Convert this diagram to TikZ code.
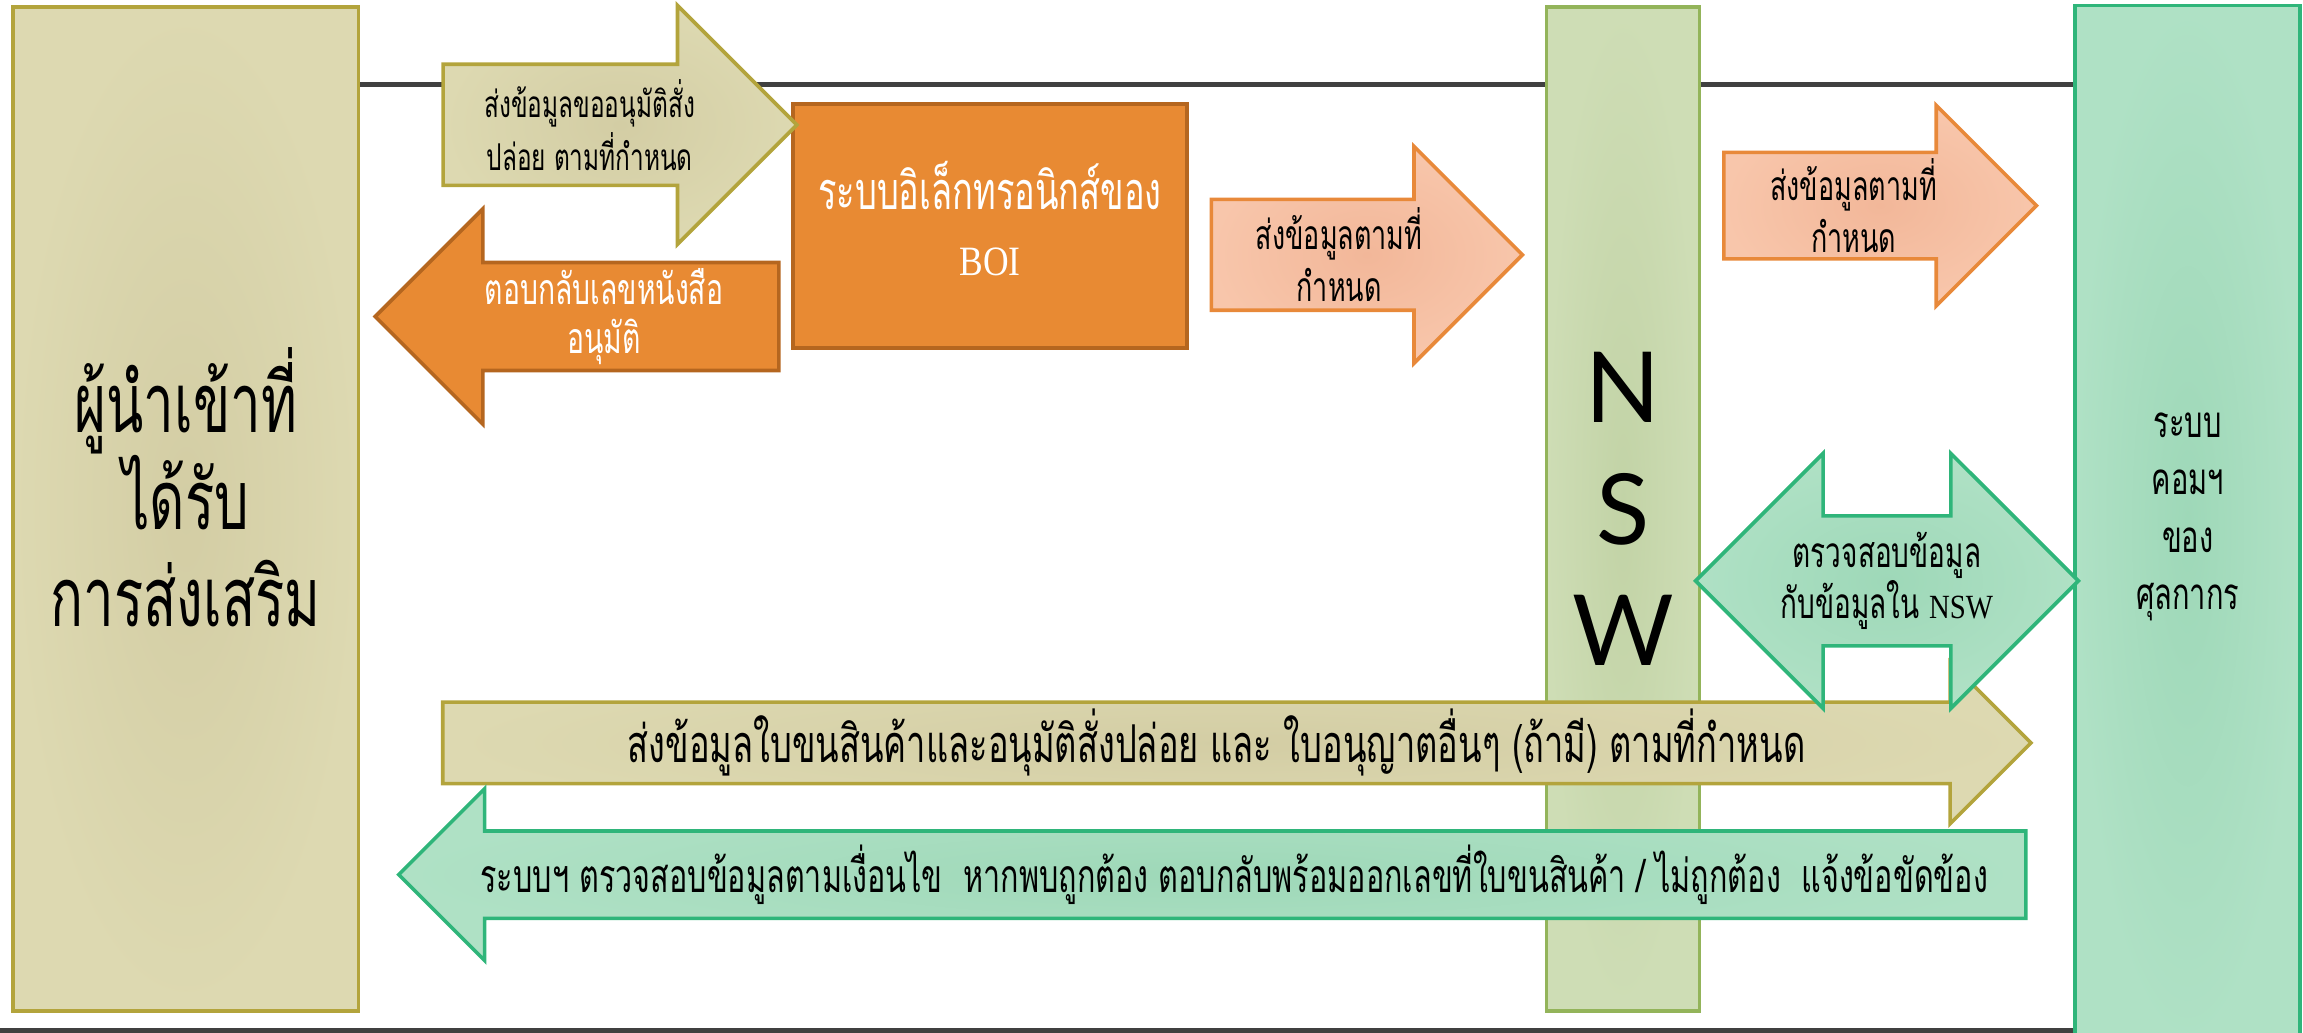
\documentclass[tikz,border=0pt]{standalone}
\usepackage{fontspec}
\newfontfamily\thai{Loma}[Script=Thai,FakeStretch=0.66]
\newfontfamily\latin{Liberation Serif}[Scale=0.8,FakeStretch=0.85]
\newfontfamily\nswfont{Lato}
\usetikzlibrary{shapes.arrows}

\definecolor{tanA}{HTML}{DDD9B1}
\definecolor{tanB}{HTML}{D3CDA4}
\definecolor{tanC}{HTML}{B3A43C}
\definecolor{boiA}{HTML}{E88A33}
\definecolor{boiC}{HTML}{B5661F}
\definecolor{salA}{HTML}{F8C6AB}
\definecolor{salB}{HTML}{F2B799}
\definecolor{salC}{HTML}{E8893A}
\definecolor{nswA}{HTML}{CEDDB5}
\definecolor{nswB}{HTML}{C2D3A6}
\definecolor{nswC}{HTML}{93B45A}
\definecolor{mintA}{HTML}{AFE1C5}
\definecolor{mintB}{HTML}{9ED8B8}
\definecolor{mintC}{HTML}{2FB57A}
\definecolor{rule}{HTML}{404040}

\newcommand{\shaft}[3]{\parbox[c][#1][c]{#2}{\centering #3}}
\newcommand{\mline}[1]{\makebox[0pt]{#1}}

\tikzset{
  block/.style={rectangle, inner sep=0pt, line width=0.7pt, align=center},
  lbl/.style={inner sep=0pt, align=center},
  bigarrow/.style={single arrow, single arrow tip angle=90, inner sep=0pt,
    line width=0.7pt, single arrow head extend=#1},
  backarrow/.style={bigarrow=#1, shape border rotate=180},
  bothways/.style={double arrow, double arrow tip angle=90, inner sep=0pt,
    line width=0.7pt, double arrow head extend=#1},
  tanpaint/.style={draw=tanC, inner color=tanB, outer color=tanA},
  orangepaint/.style={draw=boiC, fill=boiA, text=white},
  salmonpaint/.style={draw=salC, inner color=salB, outer color=salA},
  nswpaint/.style={draw=nswC, inner color=nswB, outer color=nswA},
  mintpaint/.style={draw=mintC, inner color=mintB, outer color=mintA},
  hline/.style={rule, line width=0.9pt}
}

\begin{document}
\begin{tikzpicture}[x=0.01cm, y=-0.01cm]
\useasboundingbox (0,0) rectangle (1568,703);
\coordinate (top) at (0,57.5);
\coordinate (base) at (0,701.5);
\node[block, tanpaint, minimum width=23.5mm, minimum height=68.3mm] (imp) at (126.5,346.5) {};
\node[lbl, font=\thai\fontsize{16}{18.8}\selectfont] (impT) at (126.5,331.5) {ผู้นำเข้าที่\\ได้รับ\\การส่งเสริม};
\node[block, mintpaint, minimum width=15.3mm, minimum height=70.8mm] (cus) at (1489.5,358) {};
\node[lbl, font=\thai\fontsize{8.5}{11.1}\selectfont] (cusT) at (1489.5,352) {ระบบ\\คอมฯ\\ของ\\ศุลกากร};
\draw[hline] (imp.east |- top) -- (cus.west |- top);
\draw[hline] (base) -- (cus.west |- base);
\node[block, nswpaint, minimum width=10.4mm, minimum height=68.3mm,
  font=\nswfont\fontsize{19}{23.6}\selectfont] (nsw) at (1105,346.5) {N\\S\\W};
\node[block, orangepaint, minimum width=26.8mm, minimum height=16.6mm] (boi) at (674,154) {};
\node[lbl, text=white, font=\thai\fontsize{10.1}{12.8}\selectfont] (boiT) at (674,149) {ระบบอิเล็กทรอนิกส์ของ\\{\latin BOI}};

\node[bigarrow=4mm, tanpaint, font=\thai\fontsize{7.15}{8.7}\selectfont]
  (ask) at (401.5,85) {\shaft{8mm}{19.7mm}{\mline{ส่งข้อมูลขออนุมัติสั่ง}\\\mline{ปล่อย ตามที่กำหนด}}};
\node[backarrow=3.65mm, orangepaint, font=\thai\fontsize{8.3}{9.6}\selectfont]
  (reply) at (411.25,215.5) {\shaft{7.1mm}{23.55mm}{\mline{ตอบกลับเลขหนังสือ}\\\mline{อนุมัติ}}};
\node[bigarrow=3.6mm, salmonpaint, font=\thai\fontsize{7.9}{10}\selectfont]
  (send1) at (911.75,173.5) {\shaft{7.3mm}{17.15mm}{\mline{ส่งข้อมูลตามที่}\\\mline{กำหนด}}};
\node[bigarrow=3.2mm, salmonpaint, font=\thai\fontsize{7.9}{10}\selectfont]
  (send2) at (1262,140) {\shaft{7mm}{17.4mm}{\mline{ส่งข้อมูลตามที่}\\\mline{กำหนด}}};
\node[bigarrow=2.73mm, tanpaint, font=\thai\fontsize{10.1}{12}\selectfont]
  (manifest) at (828.25,505.8) {\shaft{5.3mm}{105.05mm}{\mline{ส่งข้อมูลใบขนสินค้าและอนุมัติสั่งปล่อย และ ใบอนุญาตอื่นๆ (ถ้ามี) ตามที่กำหนด}}};
\node[backarrow=2.87mm, mintpaint, font=\thai\fontsize{8.95}{11}\selectfont]
  (result) at (840.3,595.5) {\shaft{5.7mm}{107.5mm}{\mline{ระบบฯ ตรวจสอบข้อมูลตามเงื่อนไข\ \ หากพบถูกต้อง ตอบกลับพร้อมออกเลขที่ใบขนสินค้า / ไม่ถูกต้อง\ \ แจ้งข้อขัดข้อง}}};
\node[bothways=4.25mm, mintpaint, font=\thai\fontsize{8.2}{9.7}\selectfont]
  (check) at (1284.75,395.5) {\shaft{8.6mm}{16.95mm}{\mline{ตรวจสอบข้อมูล}\\\mline{กับข้อมูลใน {\latin NSW}}}};
\end{tikzpicture}
\end{document}
